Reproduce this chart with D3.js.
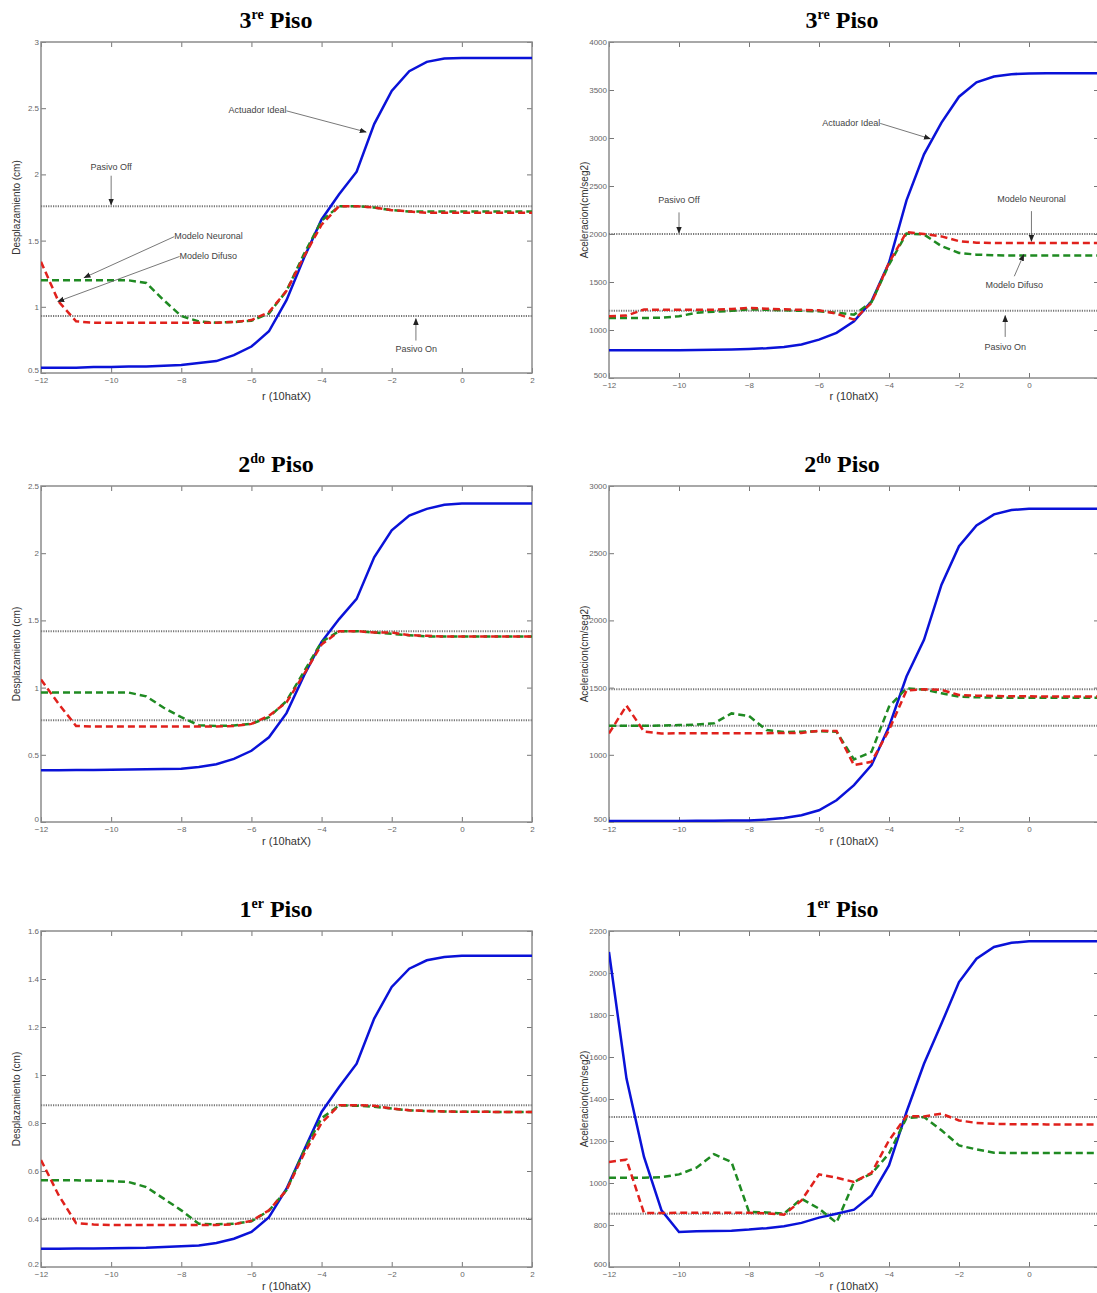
<!DOCTYPE html>
<html>
<head>
<meta charset="utf-8">
<script src="https://cdn.jsdelivr.net/npm/d3@7"></script>
<style>
  body { margin: 0; background: #fff; }
  svg { display: block; }
</style>
</head>
<body>
<div id="chart"></div>
<script>
// r (10hatX) samples
const rVals = [-12, -11.5, -11, -10.5, -10, -9.5, -9, -8.5, -8, -7.5, -7, -6.5, -6, -5.5, -5,
  -4.5, -4, -3.5, -3, -2.5, -2, -1.5, -1, -0.5, 0, 0.5, 1, 1.5, 2];
const xTicks = [-12, -10, -8, -6, -4, -2, 0, 2];

// 3re piso - desplazamiento
const disp3Ideal = [0.54, 0.54, 0.54, 0.545, 0.545, 0.55, 0.55, 0.555, 0.56, 0.575, 0.59, 0.635, 0.70, 0.815, 1.05,
  1.37, 1.66, 1.85, 2.02, 2.38, 2.63, 2.78, 2.85, 2.875, 2.88, 2.88, 2.88, 2.88, 2.88];
const disp3Neuronal = [1.20, 1.20, 1.20, 1.20, 1.20, 1.20, 1.18, 1.05, 0.93, 0.89, 0.88, 0.885, 0.895, 0.95, 1.12,
  1.40, 1.65, 1.76, 1.76, 1.75, 1.73, 1.72, 1.72, 1.72, 1.72, 1.72, 1.72, 1.72, 1.72];
const disp3Difuso = [1.34, 1.04, 0.89, 0.88, 0.88, 0.88, 0.88, 0.88, 0.88, 0.88, 0.88, 0.885, 0.90, 0.96, 1.12,
  1.38, 1.62, 1.76, 1.76, 1.75, 1.73, 1.72, 1.71, 1.71, 1.71, 1.71, 1.71, 1.71, 1.71];
const disp3Pasivo = [1.76, 0.93]; // off, on
const disp3Ticks = [0.5, 1, 1.5, 2, 2.5, 3];

// 3re piso - aceleracion
const acc3Ideal = [788, 788, 789, 790, 790, 792, 795, 798, 802, 810, 823, 850, 900, 970, 1090,
  1300, 1700, 2350, 2830, 3160, 3430, 3580, 3640, 3665, 3673, 3675, 3675, 3675, 3675];
const acc3Neuronal = [1126, 1125, 1125, 1128, 1143, 1180, 1190, 1200, 1215, 1210, 1205, 1200, 1195, 1180, 1160,
  1290, 1680, 2005, 1995, 1873, 1803, 1785, 1778, 1776, 1776, 1776, 1776, 1776, 1776];
const acc3Difuso = [1143, 1150, 1213, 1210, 1210, 1210, 1212, 1220, 1230, 1222, 1215, 1210, 1205, 1170, 1108,
  1282, 1700, 2019, 2000, 1975, 1925, 1910, 1905, 1905, 1905, 1905, 1905, 1905, 1905];
const acc3Pasivo = [2000, 1200];
const acc3Ticks = [500, 1000, 1500, 2000, 2500, 3000, 3500, 4000];

// 2do piso - desplazamiento
const disp2Ideal = [0.385, 0.385, 0.386, 0.387, 0.388, 0.39, 0.392, 0.395, 0.397, 0.41, 0.43, 0.47, 0.53, 0.63, 0.81,
  1.09, 1.34, 1.51, 1.66, 1.97, 2.17, 2.28, 2.33, 2.36, 2.37, 2.37, 2.37, 2.37, 2.37];
const disp2Neuronal = [0.963, 0.963, 0.963, 0.963, 0.963, 0.963, 0.935, 0.85, 0.78, 0.72, 0.715, 0.718, 0.73, 0.78, 0.90,
  1.12, 1.34, 1.42, 1.42, 1.41, 1.40, 1.39, 1.38, 1.38, 1.38, 1.38, 1.38, 1.38, 1.38];
const disp2Difuso = [1.06, 0.88, 0.715, 0.71, 0.71, 0.71, 0.71, 0.71, 0.71, 0.71, 0.71, 0.715, 0.73, 0.79, 0.89,
  1.10, 1.32, 1.42, 1.42, 1.41, 1.41, 1.39, 1.385, 1.38, 1.38, 1.38, 1.38, 1.38, 1.38];
const disp2Pasivo = [1.42, 0.757];
const disp2Ticks = [0, 0.5, 1, 1.5, 2, 2.5];

// 2do piso - aceleracion
const acc2Ideal = [507, 507, 507, 508, 508, 509, 510, 511, 512, 518, 530, 550, 587, 662, 774,
  923, 1209, 1582, 1856, 2266, 2552, 2706, 2789, 2821, 2831, 2831, 2831, 2831, 2831];
const acc2Neuronal = [1216, 1216, 1216, 1218, 1221, 1225, 1234, 1308, 1289, 1184, 1170, 1172, 1175, 1172, 965,
  1022, 1358, 1495, 1485, 1458, 1433, 1428, 1425, 1425, 1425, 1425, 1425, 1425, 1425];
const acc2Difuso = [1159, 1366, 1172, 1159, 1160, 1160, 1160, 1160, 1160, 1161, 1162, 1163, 1179, 1177, 923,
  948, 1184, 1478, 1487, 1483, 1445, 1440, 1438, 1435, 1435, 1434, 1434, 1433, 1433];
const acc2Pasivo = [1488, 1216];
const acc2Ticks = [500, 1000, 1500, 2000, 2500, 3000];

// 1er piso - desplazamiento
const disp1Ideal = [0.276, 0.276, 0.277, 0.277, 0.278, 0.279, 0.28, 0.283, 0.286, 0.29, 0.30, 0.318, 0.346, 0.408, 0.526,
  0.686, 0.846, 0.95, 1.047, 1.235, 1.367, 1.443, 1.478, 1.492, 1.497, 1.497, 1.497, 1.497, 1.497];
const disp1Neuronal = [0.561, 0.561, 0.561, 0.560, 0.558, 0.554, 0.533, 0.485, 0.436, 0.38, 0.378, 0.38, 0.39, 0.435, 0.52,
  0.685, 0.82, 0.873, 0.872, 0.868, 0.86, 0.853, 0.85, 0.848, 0.847, 0.847, 0.846, 0.846, 0.846];
const disp1Difuso = [0.646, 0.50, 0.383, 0.377, 0.375, 0.375, 0.375, 0.375, 0.375, 0.375, 0.375, 0.378, 0.392, 0.436, 0.52,
  0.672, 0.80, 0.874, 0.874, 0.872, 0.86, 0.853, 0.85, 0.848, 0.847, 0.847, 0.846, 0.846, 0.846];
const disp1Pasivo = [0.874, 0.401];
const disp1Ticks = [0.2, 0.4, 0.6, 0.8, 1, 1.2, 1.4, 1.6];

// 1er piso - aceleracion
const acc1Ideal = [2100, 1497, 1124, 870, 767, 770, 771, 773, 778, 785, 794, 810, 835, 854, 873,
  941, 1084, 1338, 1568, 1759, 1957, 2068, 2124, 2144, 2151, 2151, 2151, 2151, 2151];
const acc1Neuronal = [1025, 1025, 1025, 1028, 1041, 1073, 1137, 1100, 862, 860, 854, 925, 878, 811, 1005,
  1044, 1140, 1310, 1314, 1251, 1179, 1160, 1144, 1143, 1143, 1143, 1143, 1143, 1143];
const acc1Difuso = [1100, 1111, 857, 857, 858, 858, 858, 858, 858, 855, 849, 917, 1041, 1025, 1005,
  1048, 1203, 1319, 1317, 1330, 1298, 1286, 1282, 1280, 1280, 1279, 1279, 1278, 1278];
const acc1Pasivo = [1314, 854];
const acc1Ticks = [600, 800, 1000, 1200, 1400, 1600, 1800, 2000, 2200];

// annotations of the top row: [text, textX, textY, anchor, fromX, fromY, toX, toY]
const disp3Notes = [
  ["Actuador Ideal", -5.0, 2.48, "end", -5.0, 2.48, -2.73, 2.32],
  ["Pasivo Off", -10, 2.05, "middle", -10, 1.99, -10, 1.77],
  ["Pasivo On", -1.3, 0.68, "middle", -1.31, 0.745, -1.31, 0.91],
  ["Modelo Neuronal", -8.2, 1.53, "start", -8.2, 1.53, -10.77, 1.22],
  ["Modelo Difuso", -8.05, 1.38, "start", -8.05, 1.38, -11.52, 1.04]
];
const acc3Notes = [
  ["Actuador Ideal", -4.25, 3152, "end", -4.25, 3152, -2.82, 2992],
  ["Pasivo Off", -10, 2349, "middle", -10, 2225, -10, 2010],
  ["Modelo Neuronal", 0.07, 2360, "middle", 0.07, 2238, 0.07, 1925],
  ["Modelo Difuso", -0.42, 1463, "middle", -0.42, 1560, -0.15, 1786],
  ["Pasivo On", -0.68, 812, "middle", -0.68, 928, -0.68, 1150]
];

const W = 1097, H = 1293;
const colX = [[41, 532], [609, 1099]];
const rows = [
  { title: ["3", "re"], boxes: [[42, 373], [42, 378]], titleY: 28, labelY: 400 },
  { title: ["2", "do"], boxes: [[486, 822], [486, 822]], titleY: 472, labelY: 845 },
  { title: ["1", "er"], boxes: [[931, 1267], [931, 1267]], titleY: 917, labelY: 1290 }
];
const titleX = [276, 842];

const panels = [
  { row: 0, col: 0, ideal: disp3Ideal, neuronal: disp3Neuronal, difuso: disp3Difuso, pasivo: disp3Pasivo, ticks: disp3Ticks, notes: disp3Notes },
  { row: 0, col: 1, ideal: acc3Ideal, neuronal: acc3Neuronal, difuso: acc3Difuso, pasivo: acc3Pasivo, ticks: acc3Ticks, notes: acc3Notes },
  { row: 1, col: 0, ideal: disp2Ideal, neuronal: disp2Neuronal, difuso: disp2Difuso, pasivo: disp2Pasivo, ticks: disp2Ticks, notes: [] },
  { row: 1, col: 1, ideal: acc2Ideal, neuronal: acc2Neuronal, difuso: acc2Difuso, pasivo: acc2Pasivo, ticks: acc2Ticks, notes: [] },
  { row: 2, col: 0, ideal: disp1Ideal, neuronal: disp1Neuronal, difuso: disp1Difuso, pasivo: disp1Pasivo, ticks: disp1Ticks, notes: [] },
  { row: 2, col: 1, ideal: acc1Ideal, neuronal: acc1Neuronal, difuso: acc1Difuso, pasivo: acc1Pasivo, ticks: acc1Ticks, notes: [] }
];

const yLabels = ["Desplazamiento (cm)", "Aceleracion(cm/seg2)"];

var svg = d3.select("#chart").append("svg")
  .attr("width", W)
  .attr("height", H)
  .style("font-family", "Arial, 'Liberation Sans', sans-serif");

svg.append("defs").append("marker")
  .attr("id", "arrow")
  .attr("viewBox", "0 0 10 10")
  .attr("refX", 9).attr("refY", 5)
  .attr("markerWidth", 7).attr("markerHeight", 7)
  .attr("markerUnits", "userSpaceOnUse")
  .attr("orient", "auto")
  .append("path")
  .attr("d", "M0,1 L10,5 L0,9 Z")
  .attr("fill", "#222");

function drawPanel(p, i) {
  const row = rows[p.row];
  const [x0, x1] = colX[p.col];
  const [y0, y1] = row.boxes[p.col];
  const ticks = p.ticks;

  const x = d3.scaleLinear().domain([-12, 2]).range([x0, x1]);
  const y = d3.scaleLinear().domain([ticks[0], ticks[ticks.length - 1]]).range([y1, y0]);

  const g = svg.append("g");

  // title with superscript
  const t = g.append("text")
    .attr("x", titleX[p.col])
    .attr("y", row.titleY)
    .attr("text-anchor", "middle")
    .style("font-family", "'Liberation Serif', 'Times New Roman', serif")
    .style("font-weight", "bold")
    .style("font-size", "24px");
  t.append("tspan").text(row.title[0]);
  t.append("tspan").text(row.title[1]).attr("dy", -9).style("font-size", "14px");
  t.append("tspan").text(" Piso").attr("dy", 9);

  g.append("clipPath").attr("id", "clip" + i)
    .append("rect").attr("x", x0).attr("y", y0).attr("width", x1 - x0).attr("height", y1 - y0);

  // axes, inward ticks on all four sides
  const tickStyle = sel => {
    sel.select(".domain").remove();
    sel.selectAll(".tick line").attr("stroke", "#777");
    sel.selectAll(".tick text").attr("fill", "#666").style("font-size", "8px");
  };
  const bottom = g.append("g").attr("transform", `translate(0,${y1})`)
    .call(d3.axisBottom(x).tickValues(xTicks).tickSizeInner(-5).tickSizeOuter(0).tickPadding(4))
    .call(tickStyle);
  // the last label of the right column falls past the page edge
  bottom.selectAll(".tick text").filter(d => x(d) > W - 6).remove();
  g.append("g").attr("transform", `translate(0,${y0})`)
    .call(d3.axisTop(x).tickValues(xTicks).tickSizeInner(-5).tickSizeOuter(0).tickFormat(""))
    .call(tickStyle);
  const left = g.append("g").attr("transform", `translate(${x0},0)`)
    .call(d3.axisLeft(y).tickValues(ticks).tickSizeInner(-5).tickSizeOuter(0).tickPadding(2).tickFormat(d3.format("")))
    .call(tickStyle);
  left.selectAll(".tick text").filter(d => d === ticks[0]).attr("dy", "-0.1em");
  g.append("g").attr("transform", `translate(${x1},0)`)
    .call(d3.axisRight(y).tickValues(ticks).tickSizeInner(-5).tickSizeOuter(0).tickFormat(""))
    .call(tickStyle);

  g.append("rect")
    .attr("x", x0).attr("y", y0)
    .attr("width", x1 - x0).attr("height", y1 - y0)
    .attr("fill", "none")
    .attr("stroke", "#8c8c8c")
    .attr("stroke-width", 1.5);

  // axis labels
  g.append("text")
    .attr("x", (x0 + x1) / 2)
    .attr("y", row.labelY)
    .attr("text-anchor", "middle")
    .attr("fill", "#333")
    .style("font-size", "11px")
    .text("r (10hatX)");
  g.append("text")
    .attr("transform", `translate(${x0 - 21},${(y0 + y1) / 2}) rotate(-90)`)
    .attr("text-anchor", "middle")
    .attr("fill", "#333")
    .style("font-size", "10px")
    .text(yLabels[p.col]);

  const plot = g.append("g").attr("clip-path", `url(#clip${i})`);

  // pasivo off / on levels
  plot.selectAll(".pasivo")
    .data(p.pasivo)
    .enter().append("line")
    .attr("x1", x0).attr("x2", x1)
    .attr("y1", d => y(d)).attr("y2", d => y(d))
    .attr("stroke", "#777")
    .attr("stroke-width", 2)
    .attr("stroke-dasharray", "1.2,1.2");

  const line = d3.line()
    .x((d, k) => x(rVals[k]))
    .y(d => y(d));

  plot.append("path").datum(p.ideal)
    .attr("d", line)
    .attr("fill", "none")
    .attr("stroke", "#0a12d8")
    .attr("stroke-width", 2.5);
  plot.append("path").datum(p.neuronal)
    .attr("d", line)
    .attr("fill", "none")
    .attr("stroke", "#1f8a22")
    .attr("stroke-width", 2.5)
    .attr("stroke-dasharray", "7,4");
  plot.append("path").datum(p.difuso)
    .attr("d", line)
    .attr("fill", "none")
    .attr("stroke", "#e0211c")
    .attr("stroke-width", 2.5)
    .attr("stroke-dasharray", "7,4");

  // annotations
  p.notes.forEach(n => {
    g.append("line")
      .attr("x1", x(n[4])).attr("y1", y(n[5]))
      .attr("x2", x(n[6])).attr("y2", y(n[7]))
      .attr("stroke", "#555")
      .attr("stroke-width", 0.8)
      .attr("marker-end", "url(#arrow)");
    g.append("text")
      .attr("x", x(n[1]))
      .attr("y", y(n[2]))
      .attr("text-anchor", n[3])
      .attr("dominant-baseline", "middle")
      .attr("fill", "#444")
      .style("font-size", "9px")
      .text(n[0]);
  });
}

panels.forEach(drawPanel);
</script>
</body>
</html>
